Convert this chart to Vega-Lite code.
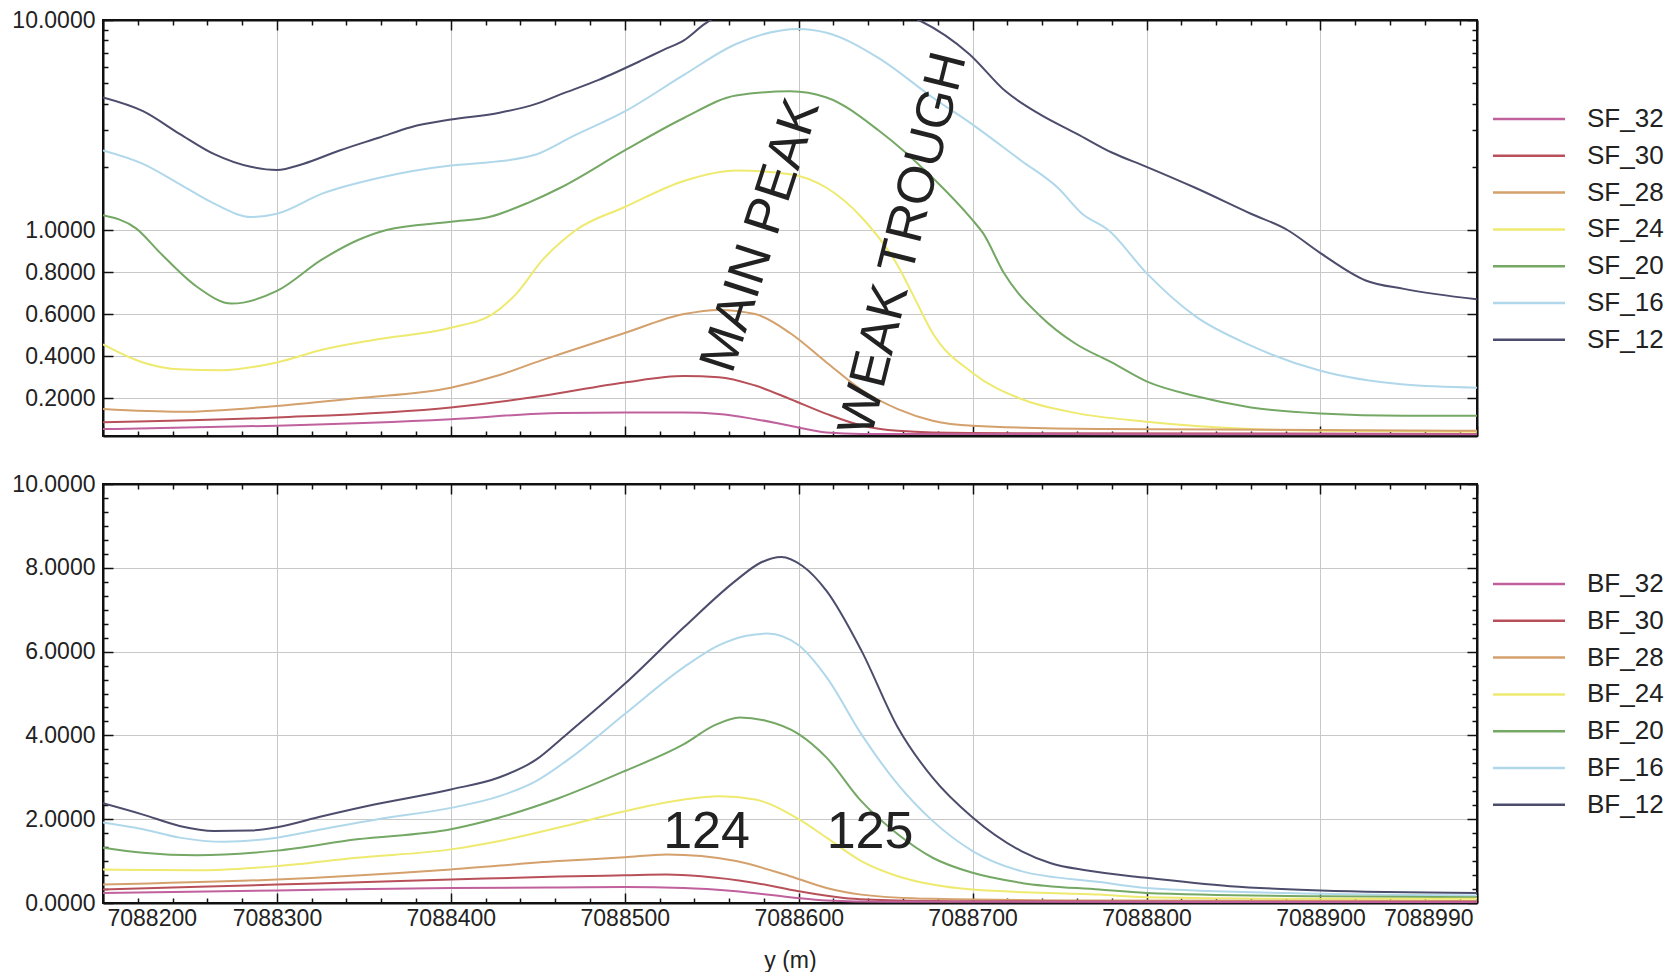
{
"$schema": "https://vega.github.io/schema/vega-lite/v6.json",
"padding": {"left": 10, "top": 8, "right": 5, "bottom": 0},
"background": "white",
"config": {
  "view": {"stroke": "#111", "strokeWidth": 2},
  "axis": {"labelFont": "Liberation Sans", "labelFontSize": 23, "labelColor": "#222", "titleFont": "Liberation Sans", "titleFontSize": 23, "titleFontWeight": "normal", "titleColor": "#222", "domainColor": "#111", "domainWidth": 2, "tickColor": "#111", "tickWidth": 1.5, "gridColor": "#c8c8c8", "gridWidth": 1, "labelOverlap": false},
  "legend": {"labelFont": "Liberation Sans"}
},
"datasets": {
  "sf": [
    {"x":7088200,"v":4.3,"s":"SF_12"},{"x":7088223,"v":3.71,"s":"SF_12"},{"x":7088244,"v":2.88,"s":"SF_12"},{"x":7088264,"v":2.31,"s":"SF_12"},{"x":7088285,"v":2.0,"s":"SF_12"},{"x":7088300,"v":1.94,"s":"SF_12"},{"x":7088315,"v":2.07,"s":"SF_12"},{"x":7088336,"v":2.4,"s":"SF_12"},{"x":7088359,"v":2.77,"s":"SF_12"},{"x":7088377,"v":3.1,"s":"SF_12"},{"x":7088400,"v":3.39,"s":"SF_12"},{"x":7088428,"v":3.65,"s":"SF_12"},{"x":7088449,"v":3.99,"s":"SF_12"},{"x":7088463,"v":4.45,"s":"SF_12"},{"x":7088485,"v":5.2,"s":"SF_12"},{"x":7088509,"v":6.4,"s":"SF_12"},{"x":7088522,"v":7.2,"s":"SF_12"},{"x":7088534,"v":8.0,"s":"SF_12"},{"x":7088546,"v":9.6,"s":"SF_12"},{"x":7088560,"v":11.0,"s":"SF_12"},{"x":7088600,"v":12.5,"s":"SF_12"},{"x":7088630,"v":12.0,"s":"SF_12"},{"x":7088655,"v":11.0,"s":"SF_12"},{"x":7088669,"v":10.0,"s":"SF_12"},{"x":7088698,"v":6.9,"s":"SF_12"},{"x":7088719,"v":4.6,"s":"SF_12"},{"x":7088739,"v":3.58,"s":"SF_12"},{"x":7088760,"v":2.88,"s":"SF_12"},{"x":7088780,"v":2.35,"s":"SF_12"},{"x":7088800,"v":2.0,"s":"SF_12"},{"x":7088828,"v":1.6,"s":"SF_12"},{"x":7088860,"v":1.2,"s":"SF_12"},{"x":7088881,"v":1.0,"s":"SF_12"},{"x":7088900,"v":0.89,"s":"SF_12"},{"x":7088926,"v":0.76,"s":"SF_12"},{"x":7088948,"v":0.72,"s":"SF_12"},{"x":7088990,"v":0.67,"s":"SF_12"},
    {"x":7088200,"v":2.4,"s":"SF_16"},{"x":7088223,"v":2.07,"s":"SF_16"},{"x":7088244,"v":1.67,"s":"SF_16"},{"x":7088264,"v":1.34,"s":"SF_16"},{"x":7088285,"v":1.16,"s":"SF_16"},{"x":7088300,"v":1.2,"s":"SF_16"},{"x":7088326,"v":1.49,"s":"SF_16"},{"x":7088359,"v":1.79,"s":"SF_16"},{"x":7088400,"v":2.03,"s":"SF_16"},{"x":7088422,"v":2.11,"s":"SF_16"},{"x":7088449,"v":2.3,"s":"SF_16"},{"x":7088470,"v":2.8,"s":"SF_16"},{"x":7088500,"v":3.7,"s":"SF_16"},{"x":7088534,"v":5.5,"s":"SF_16"},{"x":7088564,"v":7.7,"s":"SF_16"},{"x":7088600,"v":9.06,"s":"SF_16"},{"x":7088616,"v":8.7,"s":"SF_16"},{"x":7088646,"v":6.6,"s":"SF_16"},{"x":7088677,"v":4.3,"s":"SF_16"},{"x":7088700,"v":3.2,"s":"SF_16"},{"x":7088728,"v":2.15,"s":"SF_16"},{"x":7088749,"v":1.6,"s":"SF_16"},{"x":7088763,"v":1.2,"s":"SF_16"},{"x":7088778,"v":1.0,"s":"SF_16"},{"x":7088800,"v":0.795,"s":"SF_16"},{"x":7088828,"v":0.59,"s":"SF_16"},{"x":7088860,"v":0.45,"s":"SF_16"},{"x":7088900,"v":0.33,"s":"SF_16"},{"x":7088948,"v":0.265,"s":"SF_16"},{"x":7088990,"v":0.25,"s":"SF_16"},
    {"x":7088200,"v":1.18,"s":"SF_20"},{"x":7088219,"v":1.02,"s":"SF_20"},{"x":7088233,"v":0.89,"s":"SF_20"},{"x":7088254,"v":0.73,"s":"SF_20"},{"x":7088274,"v":0.65,"s":"SF_20"},{"x":7088300,"v":0.71,"s":"SF_20"},{"x":7088326,"v":0.86,"s":"SF_20"},{"x":7088346,"v":0.95,"s":"SF_20"},{"x":7088363,"v":1.0,"s":"SF_20"},{"x":7088400,"v":1.1,"s":"SF_20"},{"x":7088422,"v":1.16,"s":"SF_20"},{"x":7088445,"v":1.36,"s":"SF_20"},{"x":7088463,"v":1.6,"s":"SF_20"},{"x":7088500,"v":2.4,"s":"SF_20"},{"x":7088534,"v":3.45,"s":"SF_20"},{"x":7088564,"v":4.4,"s":"SF_20"},{"x":7088595,"v":4.6,"s":"SF_20"},{"x":7088616,"v":4.3,"s":"SF_20"},{"x":7088646,"v":2.98,"s":"SF_20"},{"x":7088677,"v":1.79,"s":"SF_20"},{"x":7088700,"v":1.12,"s":"SF_20"},{"x":7088706,"v":0.985,"s":"SF_20"},{"x":7088718,"v":0.795,"s":"SF_20"},{"x":7088739,"v":0.59,"s":"SF_20"},{"x":7088759,"v":0.46,"s":"SF_20"},{"x":7088780,"v":0.37,"s":"SF_20"},{"x":7088800,"v":0.28,"s":"SF_20"},{"x":7088828,"v":0.21,"s":"SF_20"},{"x":7088860,"v":0.156,"s":"SF_20"},{"x":7088900,"v":0.127,"s":"SF_20"},{"x":7088948,"v":0.116,"s":"SF_20"},{"x":7088990,"v":0.116,"s":"SF_20"},
    {"x":7088200,"v":0.456,"s":"SF_24"},{"x":7088223,"v":0.37,"s":"SF_24"},{"x":7088244,"v":0.337,"s":"SF_24"},{"x":7088268,"v":0.333,"s":"SF_24"},{"x":7088300,"v":0.37,"s":"SF_24"},{"x":7088326,"v":0.43,"s":"SF_24"},{"x":7088358,"v":0.48,"s":"SF_24"},{"x":7088400,"v":0.535,"s":"SF_24"},{"x":7088424,"v":0.6,"s":"SF_24"},{"x":7088438,"v":0.7,"s":"SF_24"},{"x":7088453,"v":0.86,"s":"SF_24"},{"x":7088463,"v":0.94,"s":"SF_24"},{"x":7088472,"v":1.0,"s":"SF_24"},{"x":7088500,"v":1.29,"s":"SF_24"},{"x":7088534,"v":1.73,"s":"SF_24"},{"x":7088564,"v":1.93,"s":"SF_24"},{"x":7088595,"v":1.86,"s":"SF_24"},{"x":7088616,"v":1.6,"s":"SF_24"},{"x":7088636,"v":1.16,"s":"SF_24"},{"x":7088657,"v":0.83,"s":"SF_24"},{"x":7088667,"v":0.67,"s":"SF_24"},{"x":7088677,"v":0.51,"s":"SF_24"},{"x":7088700,"v":0.32,"s":"SF_24"},{"x":7088728,"v":0.196,"s":"SF_24"},{"x":7088759,"v":0.13,"s":"SF_24"},{"x":7088800,"v":0.088,"s":"SF_24"},{"x":7088860,"v":0.053,"s":"SF_24"},{"x":7088900,"v":0.045,"s":"SF_24"},{"x":7088990,"v":0.04,"s":"SF_24"},
    {"x":7088200,"v":0.148,"s":"SF_28"},{"x":7088244,"v":0.135,"s":"SF_28"},{"x":7088300,"v":0.163,"s":"SF_28"},{"x":7088346,"v":0.2,"s":"SF_28"},{"x":7088400,"v":0.25,"s":"SF_28"},{"x":7088428,"v":0.31,"s":"SF_28"},{"x":7088452,"v":0.38,"s":"SF_28"},{"x":7088463,"v":0.41,"s":"SF_28"},{"x":7088500,"v":0.51,"s":"SF_28"},{"x":7088534,"v":0.6,"s":"SF_28"},{"x":7088554,"v":0.62,"s":"SF_28"},{"x":7088575,"v":0.6,"s":"SF_28"},{"x":7088595,"v":0.51,"s":"SF_28"},{"x":7088616,"v":0.37,"s":"SF_28"},{"x":7088636,"v":0.24,"s":"SF_28"},{"x":7088657,"v":0.148,"s":"SF_28"},{"x":7088677,"v":0.093,"s":"SF_28"},{"x":7088700,"v":0.069,"s":"SF_28"},{"x":7088773,"v":0.053,"s":"SF_28"},{"x":7088990,"v":0.045,"s":"SF_28"},
    {"x":7088200,"v":0.085,"s":"SF_30"},{"x":7088300,"v":0.108,"s":"SF_30"},{"x":7088400,"v":0.156,"s":"SF_30"},{"x":7088452,"v":0.21,"s":"SF_30"},{"x":7088500,"v":0.275,"s":"SF_30"},{"x":7088534,"v":0.305,"s":"SF_30"},{"x":7088554,"v":0.3,"s":"SF_30"},{"x":7088575,"v":0.26,"s":"SF_30"},{"x":7088595,"v":0.196,"s":"SF_30"},{"x":7088616,"v":0.125,"s":"SF_30"},{"x":7088636,"v":0.07,"s":"SF_30"},{"x":7088657,"v":0.045,"s":"SF_30"},{"x":7088698,"v":0.034,"s":"SF_30"},{"x":7088990,"v":0.03,"s":"SF_30"},
    {"x":7088200,"v":0.053,"s":"SF_32"},{"x":7088300,"v":0.069,"s":"SF_32"},{"x":7088400,"v":0.1,"s":"SF_32"},{"x":7088463,"v":0.13,"s":"SF_32"},{"x":7088500,"v":0.132,"s":"SF_32"},{"x":7088534,"v":0.132,"s":"SF_32"},{"x":7088554,"v":0.125,"s":"SF_32"},{"x":7088575,"v":0.1,"s":"SF_32"},{"x":7088595,"v":0.069,"s":"SF_32"},{"x":7088616,"v":0.037,"s":"SF_32"},{"x":7088636,"v":0.03,"s":"SF_32"},{"x":7088990,"v":0.028,"s":"SF_32"}
  ],
  "bf": [
    {"x":7088200,"v":2.38,"s":"BF_12"},{"x":7088223,"v":2.11,"s":"BF_12"},{"x":7088244,"v":1.84,"s":"BF_12"},{"x":7088264,"v":1.72,"s":"BF_12"},{"x":7088285,"v":1.73,"s":"BF_12"},{"x":7088300,"v":1.81,"s":"BF_12"},{"x":7088326,"v":2.07,"s":"BF_12"},{"x":7088356,"v":2.35,"s":"BF_12"},{"x":7088400,"v":2.71,"s":"BF_12"},{"x":7088428,"v":3.0,"s":"BF_12"},{"x":7088449,"v":3.42,"s":"BF_12"},{"x":7088465,"v":3.97,"s":"BF_12"},{"x":7088500,"v":5.23,"s":"BF_12"},{"x":7088534,"v":6.58,"s":"BF_12"},{"x":7088564,"v":7.7,"s":"BF_12"},{"x":7088578,"v":8.12,"s":"BF_12"},{"x":7088590,"v":8.26,"s":"BF_12"},{"x":7088602,"v":8.05,"s":"BF_12"},{"x":7088616,"v":7.45,"s":"BF_12"},{"x":7088636,"v":6.03,"s":"BF_12"},{"x":7088657,"v":4.19,"s":"BF_12"},{"x":7088677,"v":2.99,"s":"BF_12"},{"x":7088700,"v":2.04,"s":"BF_12"},{"x":7088728,"v":1.24,"s":"BF_12"},{"x":7088745,"v":0.95,"s":"BF_12"},{"x":7088765,"v":0.78,"s":"BF_12"},{"x":7088800,"v":0.6,"s":"BF_12"},{"x":7088848,"v":0.4,"s":"BF_12"},{"x":7088900,"v":0.3,"s":"BF_12"},{"x":7088990,"v":0.24,"s":"BF_12"},
    {"x":7088200,"v":1.92,"s":"BF_16"},{"x":7088223,"v":1.76,"s":"BF_16"},{"x":7088244,"v":1.56,"s":"BF_16"},{"x":7088270,"v":1.46,"s":"BF_16"},{"x":7088300,"v":1.56,"s":"BF_16"},{"x":7088326,"v":1.76,"s":"BF_16"},{"x":7088358,"v":2.0,"s":"BF_16"},{"x":7088400,"v":2.27,"s":"BF_16"},{"x":7088428,"v":2.55,"s":"BF_16"},{"x":7088449,"v":2.91,"s":"BF_16"},{"x":7088470,"v":3.5,"s":"BF_16"},{"x":7088500,"v":4.51,"s":"BF_16"},{"x":7088534,"v":5.63,"s":"BF_16"},{"x":7088554,"v":6.15,"s":"BF_16"},{"x":7088570,"v":6.38,"s":"BF_16"},{"x":7088582,"v":6.43,"s":"BF_16"},{"x":7088600,"v":6.15,"s":"BF_16"},{"x":7088616,"v":5.39,"s":"BF_16"},{"x":7088636,"v":4.03,"s":"BF_16"},{"x":7088657,"v":2.83,"s":"BF_16"},{"x":7088677,"v":1.96,"s":"BF_16"},{"x":7088700,"v":1.24,"s":"BF_16"},{"x":7088728,"v":0.76,"s":"BF_16"},{"x":7088773,"v":0.5,"s":"BF_16"},{"x":7088800,"v":0.36,"s":"BF_16"},{"x":7088900,"v":0.22,"s":"BF_16"},{"x":7088990,"v":0.18,"s":"BF_16"},
    {"x":7088200,"v":1.32,"s":"BF_20"},{"x":7088223,"v":1.2,"s":"BF_20"},{"x":7088254,"v":1.14,"s":"BF_20"},{"x":7088300,"v":1.25,"s":"BF_20"},{"x":7088346,"v":1.52,"s":"BF_20"},{"x":7088400,"v":1.76,"s":"BF_20"},{"x":7088428,"v":2.04,"s":"BF_20"},{"x":7088462,"v":2.5,"s":"BF_20"},{"x":7088500,"v":3.15,"s":"BF_20"},{"x":7088534,"v":3.79,"s":"BF_20"},{"x":7088552,"v":4.25,"s":"BF_20"},{"x":7088566,"v":4.43,"s":"BF_20"},{"x":7088580,"v":4.36,"s":"BF_20"},{"x":7088600,"v":4.03,"s":"BF_20"},{"x":7088616,"v":3.47,"s":"BF_20"},{"x":7088636,"v":2.43,"s":"BF_20"},{"x":7088657,"v":1.64,"s":"BF_20"},{"x":7088677,"v":1.08,"s":"BF_20"},{"x":7088700,"v":0.72,"s":"BF_20"},{"x":7088728,"v":0.48,"s":"BF_20"},{"x":7088773,"v":0.32,"s":"BF_20"},{"x":7088800,"v":0.24,"s":"BF_20"},{"x":7088900,"v":0.16,"s":"BF_20"},{"x":7088990,"v":0.14,"s":"BF_20"},
    {"x":7088200,"v":0.8,"s":"BF_24"},{"x":7088254,"v":0.78,"s":"BF_24"},{"x":7088300,"v":0.88,"s":"BF_24"},{"x":7088346,"v":1.08,"s":"BF_24"},{"x":7088400,"v":1.28,"s":"BF_24"},{"x":7088428,"v":1.48,"s":"BF_24"},{"x":7088462,"v":1.8,"s":"BF_24"},{"x":7088500,"v":2.19,"s":"BF_24"},{"x":7088534,"v":2.47,"s":"BF_24"},{"x":7088554,"v":2.55,"s":"BF_24"},{"x":7088575,"v":2.47,"s":"BF_24"},{"x":7088600,"v":2.0,"s":"BF_24"},{"x":7088616,"v":1.56,"s":"BF_24"},{"x":7088636,"v":1.0,"s":"BF_24"},{"x":7088657,"v":0.64,"s":"BF_24"},{"x":7088677,"v":0.44,"s":"BF_24"},{"x":7088700,"v":0.32,"s":"BF_24"},{"x":7088773,"v":0.2,"s":"BF_24"},{"x":7088800,"v":0.14,"s":"BF_24"},{"x":7088900,"v":0.1,"s":"BF_24"},{"x":7088990,"v":0.1,"s":"BF_24"},
    {"x":7088200,"v":0.44,"s":"BF_28"},{"x":7088300,"v":0.56,"s":"BF_28"},{"x":7088400,"v":0.8,"s":"BF_28"},{"x":7088462,"v":1.0,"s":"BF_28"},{"x":7088500,"v":1.09,"s":"BF_28"},{"x":7088524,"v":1.16,"s":"BF_28"},{"x":7088544,"v":1.12,"s":"BF_28"},{"x":7088564,"v":1.0,"s":"BF_28"},{"x":7088595,"v":0.64,"s":"BF_28"},{"x":7088616,"v":0.36,"s":"BF_28"},{"x":7088636,"v":0.2,"s":"BF_28"},{"x":7088677,"v":0.1,"s":"BF_28"},{"x":7088773,"v":0.06,"s":"BF_28"},{"x":7088990,"v":0.05,"s":"BF_28"},
    {"x":7088200,"v":0.32,"s":"BF_30"},{"x":7088300,"v":0.44,"s":"BF_30"},{"x":7088400,"v":0.56,"s":"BF_30"},{"x":7088462,"v":0.63,"s":"BF_30"},{"x":7088500,"v":0.66,"s":"BF_30"},{"x":7088524,"v":0.68,"s":"BF_30"},{"x":7088544,"v":0.64,"s":"BF_30"},{"x":7088575,"v":0.48,"s":"BF_30"},{"x":7088600,"v":0.28,"s":"BF_30"},{"x":7088626,"v":0.12,"s":"BF_30"},{"x":7088657,"v":0.06,"s":"BF_30"},{"x":7088700,"v":0.04,"s":"BF_30"},{"x":7088990,"v":0.03,"s":"BF_30"},
    {"x":7088200,"v":0.24,"s":"BF_32"},{"x":7088300,"v":0.3,"s":"BF_32"},{"x":7088400,"v":0.36,"s":"BF_32"},{"x":7088462,"v":0.37,"s":"BF_32"},{"x":7088500,"v":0.38,"s":"BF_32"},{"x":7088534,"v":0.36,"s":"BF_32"},{"x":7088564,"v":0.28,"s":"BF_32"},{"x":7088595,"v":0.14,"s":"BF_32"},{"x":7088616,"v":0.06,"s":"BF_32"},{"x":7088650,"v":0.03,"s":"BF_32"},{"x":7088990,"v":0.02,"s":"BF_32"}
  ],
  "notesTop": [
    {"x":7088578,"v":0.975,"label":"MAIN PEAK"},
    {"x":7088660,"v":0.935,"label":"WEAK TROUGH"}
  ],
  "notesBottom": [
    {"x":7088547,"v":1.7,"label":"124"},
    {"x":7088641,"v":1.7,"label":"125"}
  ]
},
"spacing": 34,
"resolve": {"scale": {"x": "independent", "y": "independent", "color": "independent"}, "legend": {"color": "independent"}},
"vconcat": [
  {
    "width": 1374,
    "height": 416,
    "resolve": {"axis": {"x": "independent", "y": "independent"}},
    "layer": [
      {
        "data": {"name": "sf"},
        "mark": {"type": "line", "interpolate": "monotone", "strokeWidth": 2, "clip": true},
        "encoding": {
          "x": {"field": "x", "type": "quantitative",
                "scale": {"domain": [7088200, 7088990], "nice": false, "zero": false},
                "axis": {"orient": "bottom", "title": null, "labels": false, "grid": true,
                         "values": [7088200,7088220,7088240,7088260,7088280,7088300,7088320,7088340,7088360,7088380,7088400,7088420,7088440,7088460,7088480,7088500,7088520,7088540,7088560,7088580,7088600,7088620,7088640,7088660,7088680,7088700,7088720,7088740,7088760,7088780,7088800,7088820,7088840,7088860,7088880,7088900,7088920,7088940,7088960,7088980,7088990],
                         "gridOpacity": {"condition": {"test": "datum.value % 100 == 0", "value": 1}, "value": 0},
                         "tickSize": {"condition": {"test": "datum.value % 100 == 0 || datum.value == 7088990", "value": -10}, "value": -5}}},
          "y": {"field": "v", "type": "quantitative",
                "scale": {"domain": [0.02,1,1.25,1.5,2,2.5,3,4,5,6,7,8,9,10], "range": [416,210,189.65,173,146.8,126.4,109.8,83.6,63.2,46.6,32.5,20.3,9.6,0], "nice": false, "zero": false},
                "axis": {"orient": "left", "title": null, "grid": true, "labelPadding": 18,
                         "values": [0.2,0.4,0.6,0.8,1,2,3,4,5,6,7,8,9,10],
                         "labelExpr": "(datum.value <= 1 || datum.value == 10) ? format(datum.value, '.4f') : ''",
                         "gridOpacity": {"condition": {"test": "datum.value <= 1", "value": 1}, "value": 0},
                         "tickSize": {"condition": {"test": "datum.value <= 1 || datum.value == 10", "value": -10}, "value": -5}}},
          "color": {"field": "s", "type": "nominal",
                    "scale": {"domain": ["SF_32","SF_30","SF_28","SF_24","SF_20","SF_16","SF_12"], "range": ["#c0609c","#b8505a","#d4a06c","#eeea70","#74a864","#b0d8ea","#4c4c6c"]},
                    "legend": {"orient": "none", "legendX": 1413, "legendY": 86, "title": null, "symbolType": "M-4,0H4", "symbolSize": 324, "symbolStrokeWidth": 2.5, "labelFontSize": 26, "labelColor": "#222", "rowPadding": 10.8, "labelOffset": 45}}
        }
      },
      {
        "data": {"name": "notesTop"},
        "mark": {"type": "text", "font": "Liberation Sans", "fontSize": 52, "color": "#222", "align": "center", "baseline": "middle", "clip": true},
        "encoding": {
          "x": {"field": "x", "type": "quantitative",
                "scale": {"domain": [7088200, 7088990], "nice": false, "zero": false},
                "axis": {"orient": "top", "title": null, "labels": false, "grid": false,
                         "values": [7088200,7088220,7088240,7088260,7088280,7088300,7088320,7088340,7088360,7088380,7088400,7088420,7088440,7088460,7088480,7088500,7088520,7088540,7088560,7088580,7088600,7088620,7088640,7088660,7088680,7088700,7088720,7088740,7088760,7088780,7088800,7088820,7088840,7088860,7088880,7088900,7088920,7088940,7088960,7088980,7088990],
                         "tickSize": {"condition": {"test": "datum.value % 100 == 0 || datum.value == 7088990", "value": -10}, "value": -5}}},
          "y": {"field": "v", "type": "quantitative",
                "scale": {"domain": [0.02,1,1.25,1.5,2,2.5,3,4,5,6,7,8,9,10], "range": [416,210,189.65,173,146.8,126.4,109.8,83.6,63.2,46.6,32.5,20.3,9.6,0], "nice": false, "zero": false},
                "axis": {"orient": "right", "title": null, "labels": false, "grid": false,
                         "values": [0.2,0.4,0.6,0.8,1,2,3,4,5,6,7,8,9,10],
                         "tickSize": {"condition": {"test": "datum.value <= 1 || datum.value == 10", "value": -10}, "value": -5}}},
          "text": {"field": "label", "type": "nominal"},
          "angle": {"condition": {"test": "datum.label == 'MAIN PEAK'", "value": 288}, "value": 284}
        }
      }
    ]
  },
  {
    "width": 1374,
    "height": 419,
    "resolve": {"axis": {"x": "independent", "y": "independent"}},
    "layer": [
      {
        "data": {"name": "bf"},
        "mark": {"type": "line", "interpolate": "monotone", "strokeWidth": 2, "clip": true},
        "encoding": {
          "x": {"field": "x", "type": "quantitative",
                "scale": {"domain": [7088200, 7088990], "nice": false, "zero": false},
                "axis": {"orient": "bottom", "title": "y (m)", "grid": true, "format": "d", "labelFlush": true, "labelFlushOffset": -4, "labelPadding": 14, "titlePadding": 14,
                         "values": [7088200,7088220,7088240,7088260,7088280,7088300,7088320,7088340,7088360,7088380,7088400,7088420,7088440,7088460,7088480,7088500,7088520,7088540,7088560,7088580,7088600,7088620,7088640,7088660,7088680,7088700,7088720,7088740,7088760,7088780,7088800,7088820,7088840,7088860,7088880,7088900,7088920,7088940,7088960,7088980,7088990],
                         "labelExpr": "(datum.value % 100 == 0 || datum.value == 7088990) ? format(datum.value, 'd') : ''",
                         "gridOpacity": {"condition": {"test": "datum.value % 100 == 0", "value": 1}, "value": 0},
                         "tickSize": {"condition": {"test": "datum.value % 100 == 0 || datum.value == 7088990", "value": -10}, "value": -5}}},
          "y": {"field": "v", "type": "quantitative",
                "scale": {"domain": [0, 10], "nice": false, "zero": true},
                "axis": {"orient": "left", "title": null, "grid": true, "labelPadding": 18,
                         "values": [0,0.3333,0.6667,1,1.3333,1.6667,2,2.3333,2.6667,3,3.3333,3.6667,4,4.3333,4.6667,5,5.3333,5.6667,6,6.3333,6.6667,7,7.3333,7.6667,8,8.3333,8.6667,9,9.3333,9.6667,10],
                         "labelExpr": "datum.value % 2 == 0 ? format(datum.value, '.4f') : ''",
                         "gridOpacity": {"condition": {"test": "datum.value % 2 == 0", "value": 1}, "value": 0},
                         "tickSize": {"condition": {"test": "datum.value % 2 == 0", "value": -10}, "value": -5}}},
          "color": {"field": "s", "type": "nominal",
                    "scale": {"domain": ["BF_32","BF_30","BF_28","BF_24","BF_20","BF_16","BF_12"], "range": ["#c0609c","#b8505a","#d4a06c","#eeea70","#74a864","#b0d8ea","#4c4c6c"]},
                    "legend": {"orient": "none", "legendX": 1413, "legendY": 87, "title": null, "symbolType": "M-4,0H4", "symbolSize": 324, "symbolStrokeWidth": 2.5, "labelFontSize": 26, "labelColor": "#222", "rowPadding": 10.8, "labelOffset": 45}}
        }
      },
      {
        "data": {"name": "notesBottom"},
        "mark": {"type": "text", "font": "Liberation Sans", "fontSize": 52, "color": "#222", "align": "center", "baseline": "middle", "clip": true},
        "encoding": {
          "x": {"field": "x", "type": "quantitative",
                "scale": {"domain": [7088200, 7088990], "nice": false, "zero": false},
                "axis": {"orient": "top", "title": null, "labels": false, "grid": false,
                         "values": [7088200,7088220,7088240,7088260,7088280,7088300,7088320,7088340,7088360,7088380,7088400,7088420,7088440,7088460,7088480,7088500,7088520,7088540,7088560,7088580,7088600,7088620,7088640,7088660,7088680,7088700,7088720,7088740,7088760,7088780,7088800,7088820,7088840,7088860,7088880,7088900,7088920,7088940,7088960,7088980,7088990],
                         "tickSize": {"condition": {"test": "datum.value % 100 == 0 || datum.value == 7088990", "value": -10}, "value": -5}}},
          "y": {"field": "v", "type": "quantitative",
                "scale": {"domain": [0, 10], "nice": false, "zero": true},
                "axis": {"orient": "right", "title": null, "labels": false, "grid": false,
                         "values": [0,0.3333,0.6667,1,1.3333,1.6667,2,2.3333,2.6667,3,3.3333,3.6667,4,4.3333,4.6667,5,5.3333,5.6667,6,6.3333,6.6667,7,7.3333,7.6667,8,8.3333,8.6667,9,9.3333,9.6667,10],
                         "tickSize": {"condition": {"test": "datum.value % 2 == 0", "value": -10}, "value": -5}}},
          "text": {"field": "label", "type": "nominal"}
        }
      }
    ]
  }
]
}
